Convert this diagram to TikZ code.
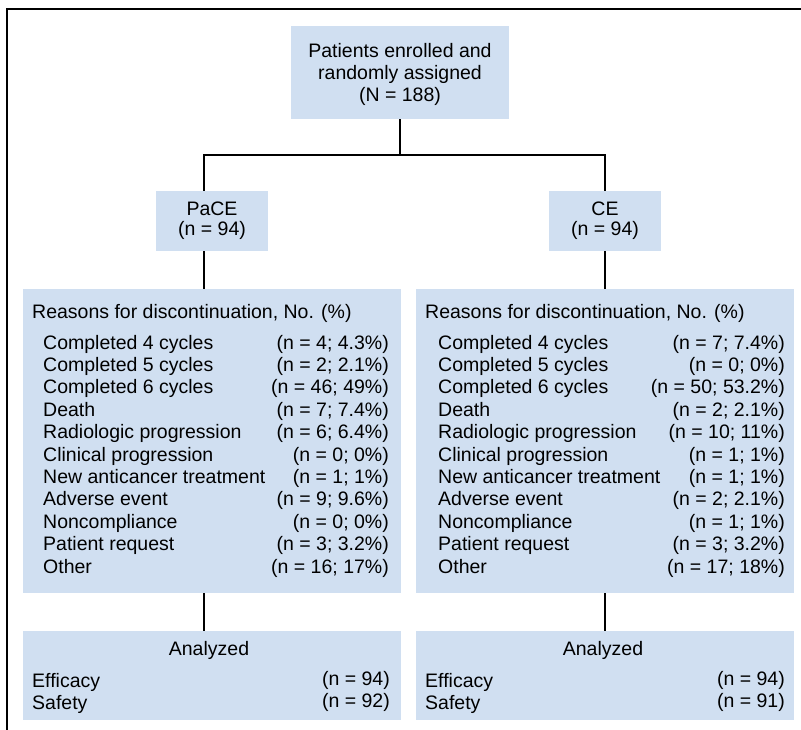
\documentclass[tikz,border=0pt]{standalone}
\usepackage{fontspec}
\setmainfont{Liberation Sans}
\definecolor{boxfill}{RGB}{208,223,241}
\begin{document}
\begin{tikzpicture}[x=1pt,y=-1pt,
  box/.style={rectangle,fill=boxfill,draw=none,inner sep=0pt},
  conn/.style={line width=2pt,black},
  txt/.style={inner sep=0pt,font=\fontsize{19.5}{22}\selectfont},
  lt/.style={txt,anchor=base west},
  rt/.style={txt,anchor=base east},
  ct/.style={txt,anchor=base}]
\useasboundingbox (0,0) rectangle (801,730);
% frame
\coordinate (fb) at (6.5,730);
\coordinate (fc) at (6.5,9.5);
\coordinate (fr) at (801,9.5);
\draw[line width=2pt] (fb) -- (fc) -- (fr);
% boxes
\node[box,minimum width=218pt,minimum height=93pt] (top) at (400,72.5) {};
\node[box,minimum width=112pt,minimum height=60pt] (pace) at (212,221) {};
\node[box,minimum width=112pt,minimum height=60pt] (ce) at (605,221) {};
\node[box,minimum width=378pt,minimum height=304pt] (reasL) at (212,441) {};
\node[box,minimum width=378pt,minimum height=304pt] (reasR) at (605,441) {};
\node[box,minimum width=378pt,minimum height=89pt] (anaL) at (212,675.5) {};
\node[box,minimum width=378pt,minimum height=89pt] (anaR) at (605,675.5) {};
% connectors
\coordinate (split) at (400,155);
\draw[conn] (top.south) -- (split) -| ([xshift=-8pt]pace.north);
\draw[conn] (split) -| (ce.north);
\draw[conn] ([xshift=-8pt]pace.south) -- ([xshift=-8pt]reasL.north);
\draw[conn] (ce.south) -- (reasR.north);
\draw[conn] ([xshift=-8pt]reasL.south) -- ([xshift=-8pt]anaL.north);
\draw[conn] (reasR.south) -- (anaR.north);
% top text
\node[ct] (t1) at (400,58) {Patients enrolled and};
\node[ct] (t2) at (400,80) {randomly assigned};
\node[ct] (t3) at (400,102) {(N = 188)};
% arm text
\node[ct] (p1) at (212,216) {PaCE};
\node[ct] (p2) at (212,236) {(n = 94)};
\node[ct] (c1) at (605,216) {CE};
\node[ct] (c2) at (605,236) {(n = 94)};
% reasons headings
\node[lt] (hL) at (32,318) {Reasons for discontinuation, No. (\%)};
\node[lt] (hR) at (425,318) {Reasons for discontinuation, No. (\%)};
% reasons rows
\foreach \lab/\vl/\vr [count=\i from 0] in {
  Completed 4 cycles/{(n = 4; 4.3\%)}/{(n = 7; 7.4\%)},
  Completed 5 cycles/{(n = 2; 2.1\%)}/{(n = 0; 0\%)},
  Completed 6 cycles/{(n = 46; 49\%)}/{(n = 50; 53.2\%)},
  Death/{(n = 7; 7.4\%)}/{(n = 2; 2.1\%)},
  Radiologic progression/{(n = 6; 6.4\%)}/{(n = 10; 11\%)},
  Clinical progression/{(n = 0; 0\%)}/{(n = 1; 1\%)},
  New anticancer treatment/{(n = 1; 1\%)}/{(n = 1; 1\%)},
  Adverse event/{(n = 9; 9.6\%)}/{(n = 2; 2.1\%)},
  Noncompliance/{(n = 0; 0\%)}/{(n = 1; 1\%)},
  Patient request/{(n = 3; 3.2\%)}/{(n = 3; 3.2\%)},
  Other/{(n = 16; 17\%)}/{(n = 17; 18\%)}} {
  \pgfmathsetmacro{\yy}{349+22.4*\i}
  \node[lt] (la\i) at (43,\yy) {\lab};
  \node[rt] (va\i) at (389,\yy) {\vl};
  \node[lt] (lb\i) at (438,\yy) {\lab};
  \node[rt] (vb\i) at (785,\yy) {\vr};
}
% analyzed
\node[ct] (aL) at (209,655) {Analyzed};
\node[ct] (aR) at (603,655) {Analyzed};
\node[lt] (eL) at (32,687) {Efficacy};
\node[lt] (sL) at (32,709) {Safety};
\node[rt] (enL) at (390,685) {(n = 94)};
\node[rt] (snL) at (390,707) {(n = 92)};
\node[lt] (eR) at (425,687) {Efficacy};
\node[lt] (sR) at (425,709) {Safety};
\node[rt] (enR) at (785,685) {(n = 94)};
\node[rt] (snR) at (785,707) {(n = 91)};
\end{tikzpicture}
\end{document}
